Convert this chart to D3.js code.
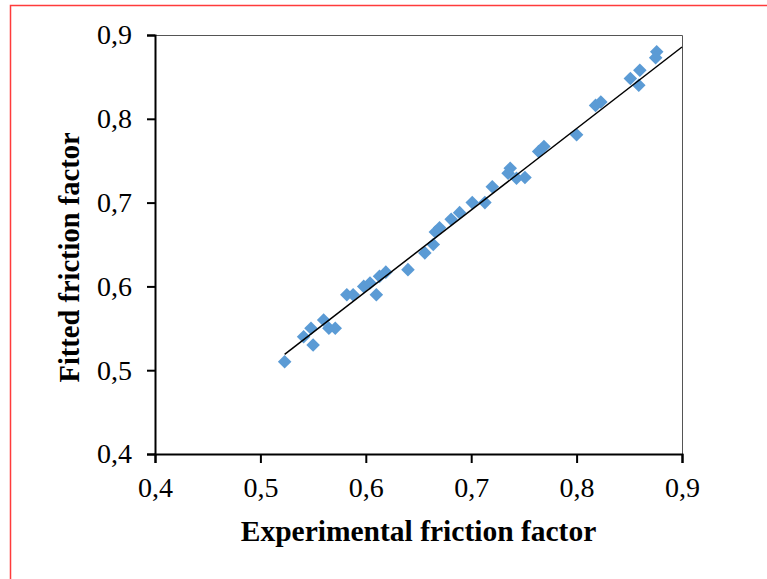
<!DOCTYPE html>
<html lang="en">
<head>
<meta charset="UTF-8">
<script src="https://d3js.org/d3.v7.min.js"></script>
<title>Friction factor</title>
<style>
  body { margin: 0; background: #fff; }
</style>
</head>
<body>
<svg id="chart" width="767" height="579"></svg>
<script>
// experimental vs fitted friction factor
const experimental = [0.523, 0.550, 0.541, 0.548, 0.560, 0.565, 0.571, 0.582, 0.588, 0.598,
  0.604, 0.610, 0.613, 0.619, 0.640, 0.656, 0.664, 0.666, 0.670, 0.681,
  0.689, 0.701, 0.713, 0.720, 0.737, 0.735, 0.743, 0.751, 0.764, 0.769,
  0.800, 0.818, 0.823, 0.851, 0.859, 0.860, 0.876, 0.875];
const fitted = [0.510, 0.530, 0.540, 0.550, 0.560, 0.550, 0.550, 0.590, 0.590, 0.600,
  0.604, 0.590, 0.612, 0.617, 0.620, 0.640, 0.650, 0.665, 0.670, 0.680,
  0.688, 0.700, 0.700, 0.719, 0.741, 0.735, 0.729, 0.730, 0.761, 0.767,
  0.781, 0.816, 0.820, 0.848, 0.840, 0.858, 0.880, 0.873];
// linear trendline
const trendSlope = 0.973;
const trendIntercept = 0.010;
const trendRange = [0.523, 0.9];
const tickValues = [0.4, 0.5, 0.6, 0.7, 0.8, 0.9];
const xTitle = "Experimental friction factor";
const yTitle = "Fitted friction factor";

const FONT = "'Liberation Serif', 'Times New Roman', serif";
const svg = d3.select("#chart");
const margin = {left: 155, top: 35, right: 85, bottom: 125};
const width = 767 - margin.left - margin.right;
const height = 579 - margin.top - margin.bottom;

// red outer frame
svg.append("rect")
  .attr("x", 10.5).attr("y", 5.5)
  .attr("width", 800).attr("height", 600)
  .attr("fill", "none").attr("stroke", "#ff3b3b").attr("stroke-width", 1.5);

const g = svg.append("g").attr("transform", "translate(" + margin.left + "," + margin.top + ")");

const x = d3.scaleLinear().domain([0.4, 0.9]).range([0, width]);
const y = d3.scaleLinear().domain([0.4, 0.9]).range([height, 0]);
const comma = d3.formatLocale({decimal: ",", thousands: ".", grouping: [3], currency: ["", ""]}).format(".1f");

// plot box (top and right edges)
g.append("path")
  .attr("d", "M0,0.5H" + (width + 0.5) + "V" + height)
  .attr("fill", "none").attr("stroke", "#555").attr("stroke-width", 1);

const xAxis = g.append("g")
  .attr("transform", "translate(0," + height + ")")
  .call(d3.axisBottom(x).tickValues(tickValues).tickFormat(comma).tickSize(9).tickPadding(14));
const yAxis = g.append("g")
  .call(d3.axisLeft(y).tickValues(tickValues).tickFormat(comma).tickSize(8).tickPadding(15));
[xAxis, yAxis].forEach(a => {
  a.attr("font-family", FONT).attr("font-size", 28);
  a.select(".domain").attr("stroke", "#000").attr("stroke-width", 2);
  a.selectAll(".tick line").attr("stroke", "#000").attr("stroke-width", 2);
  a.selectAll(".tick text").attr("fill", "#000");
});

// points
const pts = experimental.map((d, i) => ({x: d, y: fitted[i]}));
g.selectAll("path.pt").data(pts).join("path")
  .attr("class", "pt")
  .attr("d", d3.symbol(d3.symbolSquare, 92))
  .attr("transform", d => "translate(" + x(d.x) + "," + y(d.y) + ") rotate(45)")
  .attr("fill", "#5b9bd5");

// trendline
g.append("line")
  .attr("x1", x(trendRange[0])).attr("y1", y(trendSlope * trendRange[0] + trendIntercept))
  .attr("x2", x(trendRange[1])).attr("y2", y(trendSlope * trendRange[1] + trendIntercept))
  .attr("stroke", "#000").attr("stroke-width", 1.5);

// axis titles
svg.append("text")
  .attr("x", margin.left + width / 2).attr("y", 541)
  .attr("text-anchor", "middle")
  .attr("font-family", FONT).attr("font-size", 29.5).attr("font-weight", "bold")
  .text(xTitle);
svg.append("text")
  .attr("transform", "translate(79," + (margin.top + height / 2 + 13) + ") rotate(-90)")
  .attr("text-anchor", "middle")
  .attr("font-family", FONT).attr("font-size", 28.5).attr("font-weight", "bold")
  .text(yTitle);
</script>
</body>
</html>
